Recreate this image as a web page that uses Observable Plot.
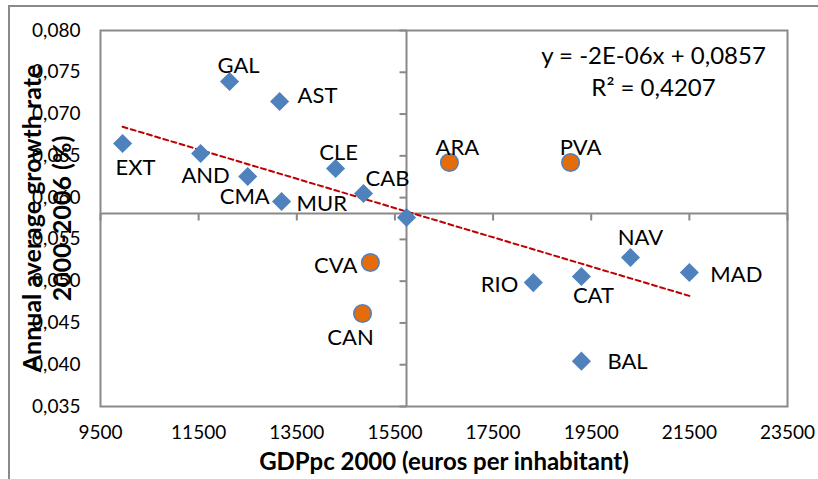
<!DOCTYPE html>
<html>
<head>
<meta charset="utf-8">
<script src="https://cdn.jsdelivr.net/npm/d3@7"></script>
<script src="https://cdn.jsdelivr.net/npm/@observablehq/plot@0.6"></script>
<style>
  html, body { margin: 0; padding: 0; background: #fff; }
  #chart { width: 818px; height: 479px; }
</style>
</head>
<body>
<div id="chart"></div>
<script>
// ---- data ----
const regions = ["GAL","AST","EXT","AND","CMA","MUR","CLE","CAB","ESP","ARA","PVA","CVA","CAN","NAV","MAD","RIO","CAT","BAL"];
const gdppc2000 = [12130,13150,9950,11540,12500,13190,14290,14860,15736,16610,19080,15000,14840,20300,21500,18320,19300,19300];
const growth0006 = [0.0739,0.0715,0.06648,0.06528,0.06253,0.05953,0.06348,0.06049,0.05762,0.0642,0.0642,0.05223,0.04613,0.05283,0.05103,0.04983,0.05056,0.04043];
const highlighted = ["ARA","PVA","CVA","CAN"];
const meanLabel = "ESP";
const xCross = 15736;
const yCross = 0.0581;
const xTicks = [9500,11500,13500,15500,17500,19500,21500,23500];
const yTicks = [0.035,0.040,0.045,0.050,0.055,0.060,0.065,0.070,0.075,0.080];
const equationText = "y = -2E-06x + 0,0857\nR² = 0,4207";
const xTitle = "GDPpc 2000 (euros per inhabitant)";
const yTitle = "Annual average growth rate\n2000-2006 (%)";

// ---- label layout (offsets in px) ----
const labelLayout = {
  GAL: [9, -16, "middle"], AST: [18, -6, "start"], EXT: [13, 24, "middle"],
  AND: [5, 22, "middle"], CMA: [-3, 20, "middle"], MUR: [15, 2, "start"],
  CLE: [3, -16, "middle"], CAB: [24, -15, "middle"], ARA: [8, -15, "middle"],
  PVA: [10, -15, "middle"], CVA: [-13, 3, "end"], CAN: [-12, 24, "middle"],
  NAV: [10, -20, "middle"], MAD: [21, 2, "start"], RIO: [-15, 2, "end"],
  CAT: [12, 19, "middle"], BAL: [26, 1, "start"]
};

const data = regions.map((r, i) => ({region: r, gdp: gdppc2000[i], growth: growth0006[i]}));
const regionData = data.filter(d => d.region !== meanLabel);
const diamonds = data.filter(d => !highlighted.includes(d.region));
const circles = data.filter(d => highlighted.includes(d.region));

const gray = "#898989";
const fmtY = d => d3.format(".3f")(d).replace(".", ",");
const tickLeft = {draw(ctx) { ctx.moveTo(-7, 0); ctx.lineTo(0, 0); }};
const tickDown = {draw(ctx) { ctx.moveTo(0, 0); ctx.lineTo(0, 7); }};

const labelMarks = regionData.map(d => {
  const [dx, dy, anchor] = labelLayout[d.region];
  return Plot.text([d], {x: "gdp", y: "growth", text: "region", dx, dy, textAnchor: anchor,
    lineAnchor: "middle", fontSize: 22, fill: "#000"});
});

const chart = Plot.plot({
  width: 818, height: 479,
  marginLeft: 100, marginRight: 31, marginTop: 30, marginBottom: 73,
  style: {fontFamily: "Lato, 'Open Sans', sans-serif", background: "#fff", color: "#000", overflow: "visible"},
  x: {domain: [9500, 23500]},
  y: {domain: [0.035, 0.080]},
  marks: [
    Plot.axisX(xTicks, {tickSize: 0, tickPadding: 19, fontSize: 19, tickFormat: d => String(d), label: null}),
    Plot.axisY(yTicks, {tickSize: 0, tickPadding: 20, fontSize: 19, tickFormat: fmtY, label: null}),
    Plot.ruleX([xCross], {stroke: gray, strokeWidth: 2}),
    Plot.ruleY([yCross], {stroke: gray, strokeWidth: 2}),
    Plot.dot(yTicks, {x: () => xCross, y: d => d, symbol: tickLeft, stroke: gray, strokeWidth: 2, fill: "none", r: 3}),
    Plot.dot(xTicks, {x: d => d, y: () => yCross, symbol: tickDown, stroke: gray, strokeWidth: 2, fill: "none", r: 3}),
    Plot.frame({stroke: gray, strokeWidth: 2}),
    Plot.linearRegressionY(regionData, {x: "gdp", y: "growth", ci: 0, stroke: "#c00000", strokeWidth: 2, strokeDasharray: "5,3.5"}),
    Plot.dot(diamonds, {x: "gdp", y: "growth", symbol: "diamond2", r: 8.6, fill: "#4f81bd", stroke: "none"}),
    Plot.dot(circles, {x: "gdp", y: "growth", symbol: "circle", r: 8.8, fill: "#e46c0a", stroke: "#4f81bd", strokeWidth: 1.5}),
    ...labelMarks,
    Plot.text([equationText], {frameAnchor: "top-right", dx: -134, dy: 39, textAnchor: "middle", lineAnchor: "middle",
      fontSize: 24, lineHeight: 1.33, fill: "#000"}),
    Plot.text([xTitle], {frameAnchor: "bottom", dy: 56, lineAnchor: "middle", fontSize: 24, fontWeight: "bold", fill: "#000"}),
    Plot.text([yTitle], {frameAnchor: "left", dx: -54, rotate: -90, textAnchor: "middle", lineAnchor: "middle", fontSize: 25, lineHeight: 1.2, fontWeight: "bold", fill: "#000"})
  ]
});

d3.select(chart).append("path").attr("d", "M9,479V6H818").attr("fill", "none").attr("stroke", gray).attr("stroke-width", 2);
document.getElementById("chart").appendChild(chart);
</script>
</body>
</html>
